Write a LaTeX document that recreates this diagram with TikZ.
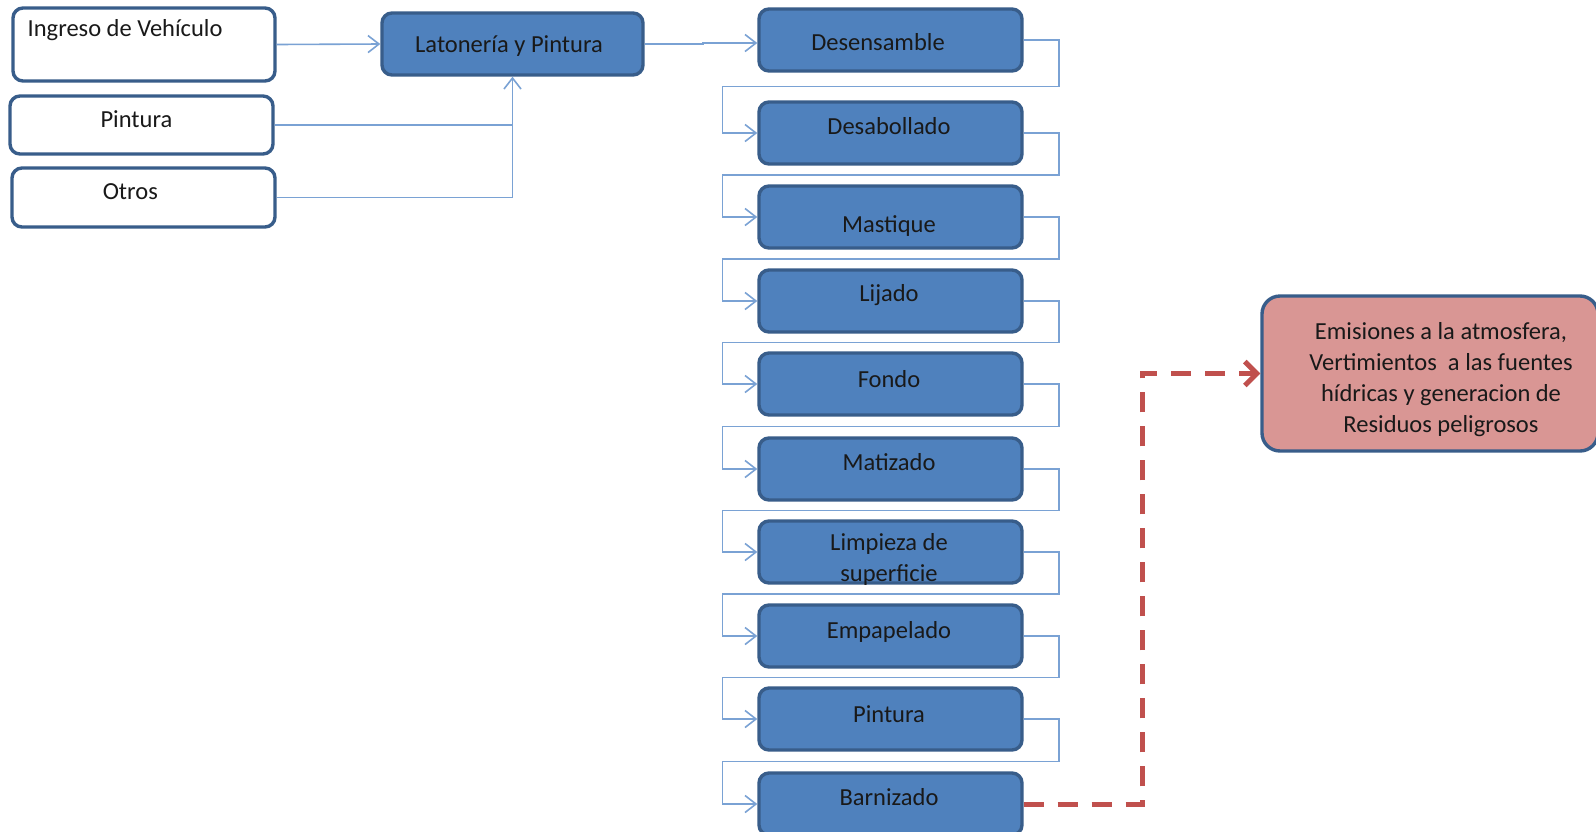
\documentclass[tikz,border=0pt]{standalone}
\usepackage{fontspec}
\setmainfont{Carlito}
\usetikzlibrary{arrows.meta,calc}

\definecolor{stepfill}{RGB}{79,129,189}
\definecolor{stepedge}{RGB}{56,93,138}
\definecolor{linkblue}{RGB}{122,162,212}
\definecolor{wastefill}{RGB}{217,150,148}
\definecolor{wastered}{RGB}{192,80,77}

\tikzset{
  stepbox/.style={draw=stepedge, fill=stepfill, line width=3.4pt, rounded corners=10pt,
    minimum width=263pt, minimum height=62pt, inner sep=0pt},
  inbox/.style={draw=stepedge, fill=white, line width=3.4pt, rounded corners=10pt, inner sep=0pt},
  lbl/.style={font=\fontsize{24.5}{31}\selectfont, text=black!90, inner sep=0pt, anchor=base},
  link/.style={draw=linkblue, line width=1.6pt},
  linkarrow/.style={link, -{Straight Barb[length=11pt,width=17pt]}},
  waste/.style={draw=wastered, line width=5pt, dash pattern=on 20pt off 14pt,
    -{Straight Barb[length=12pt,width=24pt]}}
}

\begin{document}
\begin{tikzpicture}[x=1pt,y=-1pt]
\clip (0,0) rectangle (1596,831);
\fill[white] (0,0) rectangle (1596,831);

% entry boxes
\node[inbox, minimum width=262pt, minimum height=73pt] (ing) at (144,44.5) {};
\node[lbl, anchor=base west] (ingt) at (27.5,36) {Ingreso de Vehículo};
\node[inbox, minimum width=263pt, minimum height=58pt] (pin) at (141.5,125) {};
\node[lbl] (pint) at (136.4,127.6) {Pintura};
\node[inbox, minimum width=263pt, minimum height=59pt] (otr) at (143.5,197.5) {};
\node[lbl] (otrt) at (130.3,199) {Otros};

% main process
\node[stepbox, minimum width=261pt] (lat) at (512.5,44) {};
\node[lbl] (latt) at (509,52.3) {Latonería y Pintura};

% process steps
\node[stepbox] (d1) at (890.5,40) {};
\node[lbl] (d1t) at (878,50.3) {Desensamble};
\node[stepbox] (d2) at (890.5,133) {};
\node[lbl] (d2t) at (889,134.7) {Desabollado};
\node[stepbox] (d3) at (890.5,217) {};
\node[lbl] (d3t) at (889,232.5) {Mastique};
\node[stepbox] (d4) at (890.5,301) {};
\node[lbl] (d4t) at (889,301.5) {Lijado};
\node[stepbox] (d5) at (890.5,384) {};
\node[lbl] (d5t) at (889,387) {Fondo};
\node[stepbox] (d6) at (890.5,469) {};
\node[lbl] (d6t) at (889,470.5) {Matizado};
\node[stepbox] (d7) at (890.5,552) {};
\node[lbl] (d7a) at (889,550) {Limpieza de};
\node[lbl] (d7b) at (889,581.5) {superficie};
\node[stepbox] (d8) at (890.5,636) {};
\node[lbl] (d8t) at (889,638.5) {Empapelado};
\node[stepbox] (d9) at (890.5,719) {};
\node[lbl] (d9t) at (889,722) {Pintura};
\node[stepbox] (d10) at (890.5,804) {};
\node[lbl] (d10t) at (889,805.5) {Barnizado};

% waste box
\node[draw=stepedge, fill=wastefill, line width=3.4pt, rounded corners=18pt,
  minimum width=336pt, minimum height=155pt, inner sep=0pt] (emis) at (1430,373.5) {};
\node[lbl, anchor=center, align=center] (emist) at (1441,379.5)
  {Emisiones a la atmosfera,\\Vertimientos\ \ a las fuentes\\hídricas y generacion de\\Residuos peligrosos};

% inputs into the main process
\draw[linkarrow] (ing.east) -- (lat.west);
\draw[link] (otr.east) -| (pin.east -| lat.south);
\draw[linkarrow] (pin.east) -| (lat.south);
\draw[linkarrow] (lat.east) -- ++(58,0) |- ([yshift=-3pt]d1.west);

% chain of steps
\foreach \a/\b in {d1/d2,d2/d3,d3/d4,d4/d5,d5/d6,d6/d7,d7/d8,d8/d9,d9/d10}{
  \draw[linkarrow] (\a.east) -- ++(35,0) |- ($(\a.south)!0.5!(\b.north)$)
    -| ([xshift=-35pt]\b.west) -- (\b.west);
}

% waste output
\draw[waste] (d10.east) -- (1142,804) |- (emis.west);
\end{tikzpicture}
\end{document}
